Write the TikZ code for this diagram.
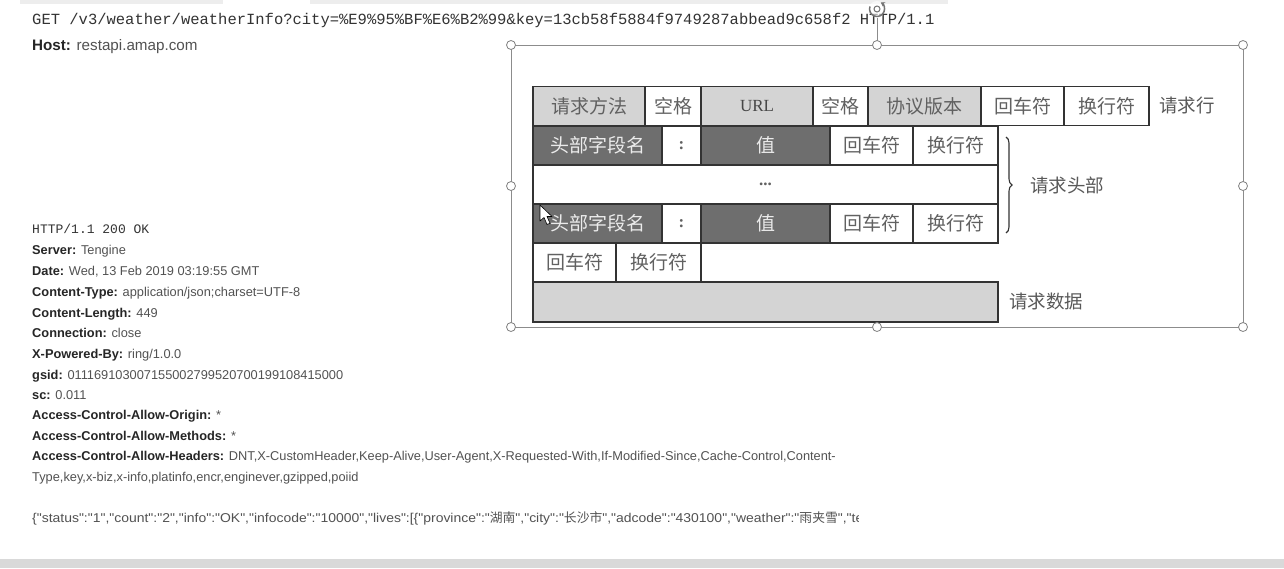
\documentclass[tikz,border=0pt]{standalone}
\usepackage{fontspec}
\newfontfamily\uifont{Liberation Sans}
\newfontfamily\jsonfont{Liberation Sans}[FakeStretch=1.09]
\newfontfamily\monofont{Liberation Mono}
\newfontfamily\cjkfont{Noto Sans CJK SC}
\newfontfamily\serfont{Liberation Serif}
\usetikzlibrary{decorations.pathreplacing,arrows.meta}
\newcommand\hdrkey[1]{{\color{black!85}\bfseries #1}}
\begin{document}
\begin{tikzpicture}[x=1pt,y=-1pt,
 cell/.style={draw=black!80, line width=1.4pt, minimum height=39pt, inner sep=0pt, font=\cjkfont\fontsize{19}{19}\selectfont, text=black!62},
 lite/.style={cell, fill=black!17},
 dark/.style={cell, fill=black!57, text=black!8},
 wcell/.style={cell, fill=white},
 lbl/.style={inner sep=0pt, anchor=west, font=\cjkfont\fontsize{18.5}{19}\selectfont, text=black!65},
 txt/.style={inner sep=0pt, anchor=base west, font=\uifont\fontsize{12.8}{14}\selectfont, text=black!68},
 mono/.style={inner sep=0pt, anchor=base west, text=black!80},
 handle/.style={circle, draw=black!50, fill=white, line width=0.8pt, minimum size=9pt, inner sep=0pt},
]
\useasboundingbox (0,0) rectangle (1284,568);
\fill[white] (0,0) rectangle (1284,568);
% screenshot bars
\fill[black!7] (20,0) rectangle (223,4);
\fill[black!7] (310,0) rectangle (948,4);
\fill[black!15] (0,559) rectangle (1284,568);

% request text
\node[mono, font=\monofont\fontsize{15.5}{16}\selectfont] (get) at (32,24) {GET /v3/weather/weatherInfo?city=\%E9\%95\%BF\%E6\%B2\%99\&key=13cb58f5884f9749287abbead9c658f2 HTTP/1.1};
\node[txt, font=\uifont\fontsize{15.2}{16}\selectfont] (host) at (32,50.5) {\hdrkey{Host:} restapi.amap.com};

% response text
\node[mono, font=\monofont\fontsize{13}{14}\selectfont] (st) at (32,233.5) {HTTP/1.1 200 OK};
\node[txt] (l1) at (32,254.5) {\hdrkey{Server:} Tengine};
\node[txt] (l2) at (32,275.5) {\hdrkey{Date:} Wed, 13 Feb 2019 03:19:55 GMT};
\node[txt] (l3) at (32,296.5) {\hdrkey{Content-Type:} application/json;charset=UTF-8};
\node[txt] (l4) at (32,317.5) {\hdrkey{Content-Length:} 449};
\node[txt] (l5) at (32,337.5) {\hdrkey{Connection:} close};
\node[txt] (l6) at (32,358.5) {\hdrkey{X-Powered-By:} ring/1.0.0};
\node[txt] (l7) at (32,379.5) {\hdrkey{gsid:} 011169103007155002799520700199108415000};
\node[txt] (l8) at (32,399.5) {\hdrkey{sc:} 0.011};
\node[txt] (l9) at (32,419.5) {\hdrkey{Access-Control-Allow-Origin:} *};
\node[txt] (l10) at (32,440.5) {\hdrkey{Access-Control-Allow-Methods:} *};
\node[txt] (l11) at (32,460.5) {\hdrkey{Access-Control-Allow-Headers:} DNT,X-CustomHeader,Keep-Alive,User-Agent,X-Requested-With,If-Modified-Since,Cache-Control,Content-};
\node[txt] (l12) at (32,481.5) {Type,key,x-biz,x-info,platinfo,encr,enginever,gzipped,poiid};
\begin{scope}
\clip (0,500) rectangle (858,535);
\node[txt, font=\jsonfont\fontsize{12.8}{14}\selectfont] (json) at (32,522.5) {\{"status":"1","count":"2","info":"OK","infocode":"10000","lives":[\{"province":"{\cjkfont 湖南}","city":"{\cjkfont 长沙市}","adcode":"430100","weather":"{\cjkfont 雨夹雪}","temperature"};
\end{scope}

% selection frame
\draw[black!45, line width=0.8pt] (511,45) rectangle (1243,327);
\coordinate (rotc) at (877,9);
\draw[black!45, line width=0.8pt] (877,45) -- (877,18);
\fill[white, opacity=0.6] (rotc) circle[radius=8];
\draw[black!55, line width=1.5pt, -{Stealth[length=4pt,width=5pt]}] (877,9) ++(200:7.5) arc[start angle=200, end angle=-60, radius=7.5];
\draw[black!55, line width=1pt] (rotc) circle[radius=3];

% table row 1
\node[lite, minimum width=112pt] (a1) at (589,106) {请求方法};
\node[wcell, minimum width=56pt] (a2) at (673,106) {空格};
\node[lite, minimum width=112pt, font=\serfont\fontsize{17}{17}\selectfont, text=black!72] (a3) at (757,106) {URL};
\node[wcell, minimum width=55pt] (a4) at (840.5,106) {空格};
\node[lite, minimum width=113pt] (a5) at (924.5,106) {协议版本};
\node[wcell, minimum width=83pt] (a6) at (1022.5,106) {回车符};
\node[wcell, minimum width=85pt] (a7) at (1106.5,106) {换行符};
% row 2
\node[dark, minimum width=129pt] (b1) at (597.5,145.5) {头部字段名};
\node[wcell, minimum width=39pt, font=\serfont\bfseries\fontsize{17}{17}\selectfont] (b2) at (681.5,145.5) {:};
\node[dark, minimum width=129pt] (b3) at (765.5,145.5) {值};
\node[wcell, minimum width=83pt] (b4) at (871.5,145.5) {回车符};
\node[wcell, minimum width=85pt] (b5) at (955.5,145.5) {换行符};
% row 3
\node[wcell, minimum width=465pt, font=\serfont\bfseries\fontsize{17}{17}\selectfont] (c1) at (765.5,184.5) {...};
% row 4
\node[dark, minimum width=129pt] (d1) at (597.5,223.5) {头部字段名};
\node[wcell, minimum width=39pt, font=\serfont\bfseries\fontsize{17}{17}\selectfont] (d2) at (681.5,223.5) {:};
\node[dark, minimum width=129pt] (d3) at (765.5,223.5) {值};
\node[wcell, minimum width=83pt] (d4) at (871.5,223.5) {回车符};
\node[wcell, minimum width=85pt] (d5) at (955.5,223.5) {换行符};
% row 5
\node[wcell, minimum width=83pt] (e1) at (574.5,262.5) {回车符};
\node[wcell, minimum width=85pt] (e2) at (658.5,262.5) {换行符};
% row 6
\node[lite, minimum width=465pt, minimum height=40pt] (f1) at (765.5,302) {};

% labels
\node[lbl] (lrow) at (1159,105) {请求行};
\coordinate (bt) at (1006,137);
\coordinate (bb) at (1006,233);
\draw[black!80, line width=1.1pt, decorate, decoration={brace, amplitude=6pt}] (bt) -- (bb);
\node[lbl] (lhead) at (1030,185) {请求头部};
\node[lbl] (ldata) at (1009,301) {请求数据};

% handles
\node[handle] (h1) at (511,45) {};
\node[handle] (h2) at (877,45) {};
\node[handle] (h3) at (1243,45) {};
\node[handle] (h4) at (511,186) {};
\node[handle] (h5) at (1243,186) {};
\node[handle] (h6) at (511,327) {};
\node[handle] (h7) at (877,327) {};
\node[handle] (h8) at (1243,327) {};

% mouse cursor
\draw[black, fill=white, line width=0.6pt, line join=round] (540,205) -- (540,221) -- (544,217.5) -- (547,224.5) -- (550,223.2) -- (547,216.5) -- (552,216.5) -- cycle;
\end{tikzpicture}
\end{document}
